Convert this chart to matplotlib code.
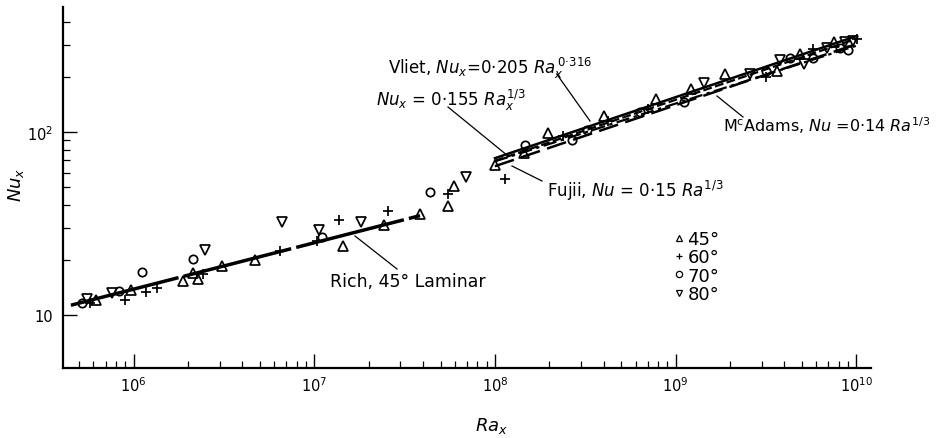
import matplotlib
matplotlib.use('Agg')
import matplotlib.pyplot as plt
from matplotlib.ticker import LogLocator, FixedLocator, NullFormatter
from matplotlib.lines import Line2D

plt.rcParams['font.family'] = ['DejaVu Sans']
plt.rcParams['mathtext.fontset'] = 'dejavusans'

# ---------------- data ----------------
tri45_ra = [6.20e5, 9.7e5, 1.89e6, 2.13e6, 2.27e6, 3.09e6, 4.70e6, 1.44e7, 2.43e7,
            3.85e7, 5.52e7, 5.96e7, 1.0e8, 1.44e8, 1.96e8, 4.02e8, 7.74e8, 1.21e9,
            1.88e9, 3.64e9, 4.88e9, 7.53e9]
tri45_nu = [12.1, 13.7, 15.4, 16.9, 15.7, 18.5, 19.9, 23.7, 31.0,
            35.6, 39.6, 50.9, 66.0, 76.8, 98.7, 122.3, 150.6, 171.8,
            207.5, 216.3, 266.8, 309.2]

plus60_ra = [5.74e5, 8.97e5, 1.17e6, 1.35e6, 2.43e6, 6.47e6, 1.04e7, 1.37e7, 2.57e7,
             5.52e7, 1.14e8, 2.38e8, 4.20e8, 7.04e8, 3.17e9, 5.76e9, 1.005e10]
plus60_nu = [11.6, 12.1, 13.4, 14.0, 16.7, 22.5, 25.5, 33.0, 36.9,
             45.8, 55.0, 94.5, 114.1, 133.6, 199.0, 284.1, 322.2]

circ70_ra = [5.17e5, 8.35e5, 1.12e6, 2.14e6, 1.10e7, 4.35e7, 1.46e8, 2.66e8, 3.23e8,
             6.35e8, 1.11e9, 3.17e9, 4.30e9, 5.78e9, 8.13e9, 9.03e9]
circ70_nu = [11.6, 13.5, 17.2, 20.1, 26.6, 47.2, 84.9, 90.4, 101.9,
             128.2, 145.3, 215.4, 255.3, 255.3, 289.5, 282.3]

tri80_ra = [5.51e5, 7.57e5, 2.50e6, 6.66e6, 1.06e7, 1.82e7, 6.92e7, 1.44e9, 2.58e9,
            3.78e9, 5.13e9, 6.88e9, 8.66e9, 9.59e9]
tri80_nu = [12.2, 13.2, 22.7, 32.1, 29.1, 32.4, 56.6, 184.1, 207.5,
            247.4, 235.3, 287.7, 309.2, 312.3]

# correlation lines (end points)
rich_ra = [4.5e5, 3.85e7]
rich_nu = [11.3, 34.9]
turb_ra = [1.0e8, 1.0e10]
vliet_nu = [69.1, 296.0]     # 0.205 Ra^0.316
c155_nu = [71.9, 334.0]      # 0.155 Ra^1/3
fujii_nu = [69.6, 323.0]     # 0.15 Ra^1/3
mcadams_nu = [65.0, 302.0]   # 0.14 Ra^1/3

xtick_vals = [1e6, 1e7, 1e8, 1e9, 1e10]
xtick_labels = [r'$10^6$', r'$10^7$', r'$10^8$', r'$10^9$', r'$10^{10}$']
ytick_vals = [10, 100]
ytick_labels = ['10', r'$10^2$']
yminor_vals = [20, 30, 40, 50, 60, 70, 80, 90, 200, 300, 400]
legend_labels = ['45°', '60°', '70°', '80°']

# ---------------- figure ----------------
W, H = 948, 439
fig = plt.figure(figsize=(W / 100, H / 100), dpi=100)
ax = fig.add_axes([63 / W, 1 - 369 / H, (871 - 63) / W, (369 - 8) / H])
ax.set_xscale('log')
ax.set_yscale('log')
ax.set_xlim(4.07e5, 1.206e10)
ax.set_ylim(5.13, 482)

for s in ('top', 'right'):
    ax.spines[s].set_visible(False)
for s in ('left', 'bottom'):
    ax.spines[s].set_linewidth(1.6)

ax.xaxis.set_major_locator(FixedLocator(xtick_vals))
ax.set_xticklabels(xtick_labels)
ax.xaxis.set_minor_locator(LogLocator(base=10, subs=range(2, 10)))
ax.xaxis.set_minor_formatter(NullFormatter())
ax.yaxis.set_major_locator(FixedLocator(ytick_vals))
ax.set_yticklabels(ytick_labels)
ax.yaxis.set_minor_locator(FixedLocator(yminor_vals))
ax.yaxis.set_minor_formatter(NullFormatter())
ax.tick_params(which='major', direction='in', length=10, width=1.0, labelsize=10.5)
ax.tick_params(which='minor', direction='in', length=5, width=0.9)
ax.tick_params(axis='x', which='major', pad=5)
ax.tick_params(axis='y', which='major', pad=7)

# lines
ax.plot(rich_ra, rich_nu, color='k', lw=2.5, ls=(0, (32, 1.5)), zorder=2)
ax.plot(turb_ra, c155_nu, color='k', lw=1.8, ls='-', zorder=2)
ax.plot(turb_ra, vliet_nu, color='k', lw=1.6, ls=(0, (6, 2, 1.5, 2)), zorder=2)
ax.plot(turb_ra, fujii_nu, color='k', lw=1.6, ls=(0, (4, 1.5)), zorder=2)
ax.plot(turb_ra, mcadams_nu, color='k', lw=1.8, ls=(0, (8, 3)), zorder=2)

# markers
mk = dict(ls='none', mfc='none', mec='k', mew=1.25, zorder=3)
ax.plot(tri45_ra, tri45_nu, marker='^', ms=6.5, **mk)
ax.plot(plus60_ra, plus60_nu, marker='+', ms=7, **mk)
ax.plot(circ70_ra, circ70_nu, marker='o', ms=6, **mk)
ax.plot(tri80_ra, tri80_nu, marker='v', ms=6.5, **mk)

# legend
handles = [Line2D([], [], marker=m, ls='none', mfc='none', mec='k', ms=4.5, mew=0.9)
           for m in ('^', '+', 'o', 'v')]
ax.legend(handles, legend_labels, loc='upper left', bbox_to_anchor=(674 / W, 1 - 231 / H),
          bbox_transform=fig.transFigure, frameon=False, fontsize=13, handlelength=0.6,
          handletextpad=0.15, labelspacing=0.02, borderpad=0, borderaxespad=0)


def P(x, y):
    return (x / W, 1 - y / H)


# annotation texts
fs = 12
fig.text(*P(388, 74), r'Vliet, $\mathit{Nu}_x$=0·205 $\mathit{Ra}_x^{\,\mathrm{0·316}}$',
         ha='left', va='baseline', fontsize=fs)
fig.text(*P(376, 106), r'$\mathit{Nu}_x$ = 0·155 $\mathit{Ra}_x^{1/3}$',
         ha='left', va='baseline', fontsize=fs)
fig.text(*P(547, 197), r'Fujii, $\mathit{Nu}$ = 0·15 $\mathit{Ra}^{1/3}$',
         ha='left', va='baseline', fontsize=fs)
fig.text(*P(723, 132), r'M$^{\mathrm{c}}$Adams, $\mathit{Nu}$ =0·14 $\mathit{Ra}^{1/3}$',
         ha='left', va='baseline', fontsize=11.5)
fig.text(*P(330, 287), 'Rich, 45° Laminar', ha='left', va='baseline', fontsize=12.5)

# leader lines
leaders = [((556.7, 75), (590, 122)), ((448, 108), (508, 157)),
           ((512, 167), (542, 182)), ((717, 97), (743, 118)),
           ((355, 237), (397, 270))]
for a, b in leaders:
    fig.add_artist(Line2D([a[0] / W, b[0] / W], [1 - a[1] / H, 1 - b[1] / H],
                          color='k', lw=0.9, transform=fig.transFigure))

# axis labels
fig.text(*P(16, 185), r'$\mathit{Nu}_x$', rotation=90, ha='center', va='center', fontsize=13)
fig.text(*P(492, 426), r'$\mathit{Ra}_x$', ha='center', va='center', fontsize=13)

fig.savefig('out.png', dpi=100)
